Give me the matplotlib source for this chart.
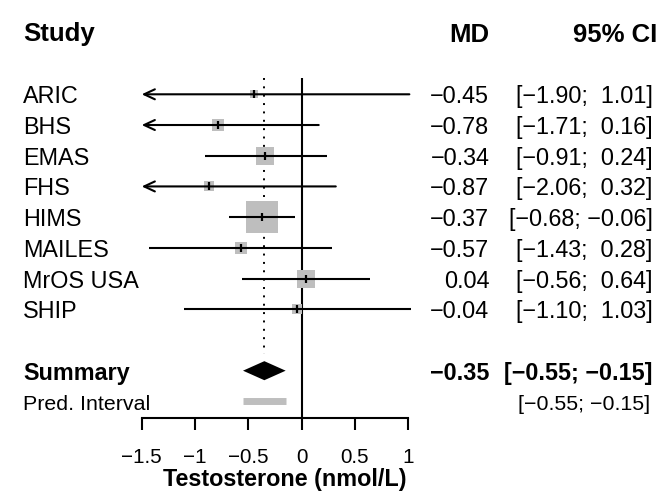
import numpy as np
import matplotlib
matplotlib.use("Agg")
import matplotlib.pyplot as plt
from matplotlib.transforms import blended_transform_factory, offset_copy
from matplotlib.patches import FancyArrowPatch

# ---------------- data ----------------
studies = ["ARIC", "BHS", "EMAS", "FHS", "HIMS", "MAILES", "MrOS USA", "SHIP"]
md = [-0.45, -0.78, -0.34, -0.87, -0.37, -0.57, 0.04, -0.04]
ci_lo = [-1.90, -1.71, -0.91, -2.06, -0.68, -1.43, -0.56, -1.10]
ci_hi = [1.01, 0.16, 0.24, 0.32, -0.06, 0.28, 0.64, 1.03]
summary_label = "Summary"
summary_md = -0.35
summary_lo = -0.55
summary_hi = -0.15
pred_label = "Pred. Interval"
pred_lo = -0.55
pred_hi = -0.15
x_ticks = [-1.5, -1, -0.5, 0, 0.5, 1]
x_label = "Testosterone (nmol/L)"
headers = ["Study", "MD", "95% CI"]

# ---------------- style ----------------
plt.rcParams['font.family'] = ['Liberation Sans', 'DejaVu Sans']
GREY = "#BEBEBE"
LW = 1.5
W, H = 660, 499
fig = plt.figure(figsize=(W / 100, H / 100), dpi=100)

def fx(px):
    return px / W

def fy(py):
    return 1 - py / H

# forest panel axes
ax_left, ax_right = 141.7, 408.3
ax_top, ax_bottom = 78.3, 418.3
ax = fig.add_axes([fx(ax_left), fy(ax_bottom), (ax_right - ax_left) / W, (ax_bottom - ax_top) / H])
row_px0, row_step = 94.3, 30.71

def px_to_row(py):
    return 1 + (py - row_px0) / row_step

ax.set_xlim(x_ticks[0], x_ticks[-1])
ax.set_ylim(px_to_row(ax_bottom), px_to_row(ax_top))
for s in ["top", "left", "right"]:
    ax.spines[s].set_visible(False)
ax.spines["bottom"].set_linewidth(LW)
ax.spines["bottom"].set_capstyle("projecting")
ax.set_yticks([])
ax.set_xticks(x_ticks)
ax.set_xticklabels([("%g" % t).replace("-", "\u2212") for t in x_ticks])
ax.tick_params(axis="x", length=8.6, width=LW, pad=12.8, labelsize=14.9, direction="out")
ax.patch.set_visible(False)

n = len(studies)
rows = np.arange(1, n + 1)
row_sum = n + 2
row_pred = n + 3
xmin, xmax = ax.get_xlim()

# zero line
ax.axvline(0, color="black", lw=LW, zorder=1)
# dotted summary line
ax.plot([summary_md, summary_md], [px_to_row(ax_top), row_sum - 0.55], color="black",
        lw=1.4, ls=(0, (1, 3.3)), zorder=1.5)

# squares sized by inverse-variance weights
se = (np.array(ci_hi) - np.array(ci_lo)) / (2 * 1.96)
w = 1 / se ** 2
side_pt = 23.0 * (w / w.max()) ** 0.45
for r, m, s in zip(rows, md, side_pt):
    ax.plot([m], [r], marker="s", ms=s, color=GREY, mew=0, zorder=2, clip_on=False)

# CI lines / arrows
for r, lo, hi in zip(rows, ci_lo, ci_hi):
    if lo < xmin:
        arr = FancyArrowPatch((hi, r), (xmin, r), arrowstyle="->,head_length=7.7,head_width=3.6",
                              mutation_scale=1, lw=LW, color="black", shrinkA=0, shrinkB=0,
                              zorder=3, clip_on=False)
        ax.add_patch(arr)
    else:
        ax.plot([lo, hi], [r, r], color="black", lw=LW, solid_capstyle="butt", zorder=3, clip_on=False)
for r, m in zip(rows, md):
    ax.plot([m], [r], marker="|", ms=5.2, mew=1.6, color="black", zorder=4)

# summary diamond
hh = 0.31
ax.fill([summary_lo, summary_md, summary_hi, summary_md],
        [row_sum, row_sum - hh, row_sum, row_sum + hh], color="black", lw=0, zorder=4)
# prediction interval
ax.plot([pred_lo, pred_hi], [row_pred, row_pred], color=GREY, lw=5, solid_capstyle="butt", zorder=4)

# ---------------- text ----------------
def fmt(v):
    return ("%.2f" % v).replace("-", "\u2212")

def fmt_pad(v):
    s = fmt(v)
    return s if v < 0 else " " + s

def ci_str(lo, hi):
    return "[" + fmt_pad(lo) + "; " + fmt_pad(hi) + "]"

bt = blended_transform_factory(fig.transFigure, ax.transData)
tr = offset_copy(bt, fig=fig, y=-6.5, units="points")
tr_pred = offset_copy(bt, fig=fig, y=-6.0, units="points")

FS = 16.85
FSH = 18.5
FSP = 15.4
x_study, x_md, x_ci = 23.3, 489.3, 652.7

hy = fy(41.5)
fig.text(fx(x_study), hy, headers[0], fontsize=FSH, fontweight="bold", ha="left", va="baseline")
fig.text(fx(x_md), hy, headers[1], fontsize=FSH, fontweight="bold", ha="right", va="baseline")
fig.text(fx(657.0), hy, headers[2], fontsize=FSH, fontweight="bold", ha="right", va="baseline")

for r, name, m, lo, hi in zip(rows, studies, md, ci_lo, ci_hi):
    fig.text(fx(x_study), r, name, transform=tr, fontsize=FS, ha="left", va="baseline")
    fig.text(fx(x_md), r, fmt(m), transform=tr, fontsize=FS, ha="right", va="baseline")
    fig.text(fx(x_ci), r, ci_str(lo, hi), transform=tr, fontsize=FS, ha="right", va="baseline")

fig.text(fx(x_study), row_sum, summary_label, transform=tr, fontsize=FS, fontweight="bold",
         ha="left", va="baseline")
fig.text(fx(x_md), row_sum, fmt(summary_md), transform=tr, fontsize=FS, fontweight="bold",
         ha="right", va="baseline")
fig.text(fx(x_ci), row_sum, ci_str(summary_lo, summary_hi), transform=tr, fontsize=FS,
         fontweight="bold", ha="right", va="baseline")

fig.text(fx(x_study), row_pred, pred_label, transform=tr_pred, fontsize=FSP, ha="left", va="baseline")
fig.text(fx(650.5), row_pred, ci_str(pred_lo, pred_hi), transform=tr_pred, fontsize=FSP,
         ha="right", va="baseline")

fig.text(fx(284.8), fy(486.1), x_label, fontsize=FS, fontweight="bold", ha="center", va="baseline")

fig.savefig("out.png", dpi=100)
